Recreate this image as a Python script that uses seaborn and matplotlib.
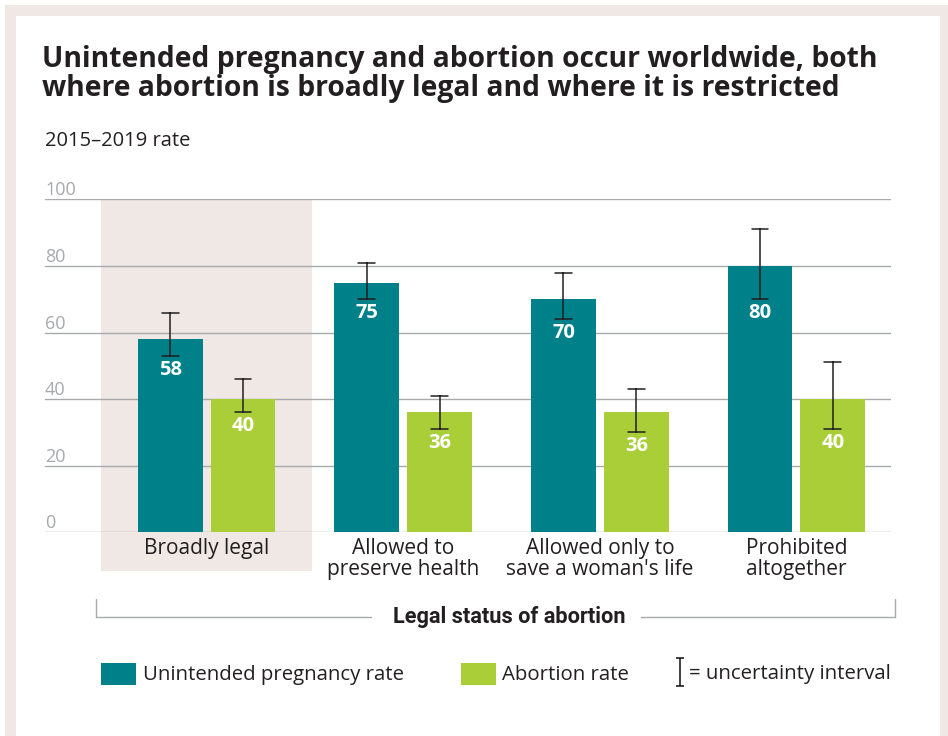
import matplotlib
matplotlib.use("Agg")
import matplotlib.pyplot as plt
from matplotlib.patches import Rectangle, Patch
from matplotlib.lines import Line2D
from matplotlib.path import Path
import numpy as np
import pandas as pd
import seaborn as sns

# data (2015-2019 rates per 1,000 women)
status = ["Broadly legal", "Allowed to\npreserve health",
          "Allowed only to\nsave a woman's life", "Prohibited\naltogether"]
unintended = [58, 75, 70, 80]
unintended_lo = [53, 70, 64, 70]
unintended_hi = [66, 81, 78, 91]
abortion = [40, 36, 36, 40]
abortion_lo = [36, 31, 30, 31]
abortion_hi = [46, 41, 43, 51]
measures = ["Unintended pregnancy rate", "Abortion rate"]
yticks = [0, 20, 40, 60, 80, 100]

TEAL = "#00818a"
GREEN = "#a9ce38"
BEIGE = "#efe8e5"
DARK = "#231f20"
GRAY = "#a7a9ac"

# long table: low / estimate / high per bar, so seaborn draws the interval
rows = []
for s, v, lo, hi in zip(status, unintended, unintended_lo, unintended_hi):
    for r in (lo, v, hi):
        rows.append({"status": s, "measure": measures[0], "rate": r})
for s, v, lo, hi in zip(status, abortion, abortion_lo, abortion_hi):
    for r in (lo, v, hi):
        rows.append({"status": s, "measure": measures[1], "rate": r})
df = pd.DataFrame(rows)

sns.set_style("white")
plt.rcParams["font.family"] = ["Open Sans", "DejaVu Sans"]

W, H = 948, 736
fig = plt.figure(figsize=(W / 100, H / 100), dpi=100)


def fx(px):
    return px / W


def fy(py):
    return 1 - py / H


# beige frame
fig.add_artist(Rectangle((fx(5), -0.1), 1.2, fy(5) + 0.1, transform=fig.transFigure,
                         color=BEIGE, zorder=-3, lw=0))
fig.add_artist(Rectangle((fx(16), -0.1), fx(940) - fx(16), fy(16) + 0.1,
                         transform=fig.transFigure, color="white", zorder=-2, lw=0))

ax = fig.add_axes([fx(45), fy(532.3), fx(891) - fx(45), fy(199.3) - fy(532.3)])
ax.patch.set_alpha(0)

sns.barplot(
    data=df, x="status", y="rate", hue="measure",
    order=status, hue_order=measures,
    palette={measures[0]: TEAL, measures[1]: GREEN},
    estimator="median", errorbar=lambda v: (v.min(), v.max()),
    capsize=0.17, err_kws={"color": DARK, "linewidth": 1.1},
    width=0.74, gap=0.11, saturation=1, legend=False,
    linewidth=0, edgecolor="none", ax=ax,
)

ax.set_ylim(0, 100)
ax.set_xlim(-0.822, 3.481)
ax.axvspan(-0.535, 0.535, ymin=-0.116, ymax=1, color=BEIGE, lw=0,
           zorder=0, clip_on=False)

ax.set_axisbelow(True)
ax.yaxis.grid(True, color=GRAY, linewidth=1)
ax.xaxis.grid(False)
for sp in ax.spines.values():
    sp.set_visible(False)

ax.set_yticks(yticks)
ax.set_yticklabels([str(t) for t in yticks])
ax.tick_params(axis="y", length=0, pad=0, labelsize=13, labelcolor=GRAY)
for lab in ax.get_yticklabels():
    lab.set_horizontalalignment("left")
    lab.set_verticalalignment("bottom")
ax.tick_params(axis="x", length=0, pad=4, labelsize=15, labelcolor=DARK)
for lab in ax.get_xticklabels():
    lab.set_linespacing(1.0)
ax.set_xlabel("")
ax.set_ylabel("")

# value labels just under the lower end of each interval
for cont, lows in zip(ax.containers, [unintended_lo, abortion_lo]):
    for bar, lo in zip(cont, lows):
        ax.annotate(f"{bar.get_height():.0f}", (bar.get_x() + bar.get_width() / 2, lo),
                    xytext=(0, -10), textcoords="offset points",
                    ha="center", va="center", color="white",
                    fontsize=14.5, fontweight="bold")

# titles
fig.text(fx(42), fy(45), "Unintended pregnancy and abortion occur worldwide, both\n"
         "where abortion is broadly legal and where it is restricted",
         ha="left", va="top", fontsize=20.3, fontweight="bold", color=DARK,
         linespacing=1.0)
fig.text(fx(45), fy(146), "2015\u20132019 rate", ha="left", va="baseline",
         fontsize=14.5, color=DARK)

# bracket with axis title
for x0, x1 in [(96, 371), (641, 895)]:
    fig.add_artist(Line2D([fx(x0), fx(x1)], [fy(617), fy(617)],
                          transform=fig.transFigure, color=GRAY, lw=1))
for x0 in (96, 895):
    fig.add_artist(Line2D([fx(x0), fx(x0)], [fy(599), fy(617)],
                          transform=fig.transFigure, color=GRAY, lw=1))
fig.text(fx(509), fy(617), "Legal status of abortion", ha="center", va="center",
         fontsize=15.7, fontweight="bold", color=DARK, family=["Roboto", "DejaVu Sans"])

# legend
handles = [Patch(color=TEAL, lw=0), Patch(color=GREEN, lw=0)]
fig.legend(handles, measures, loc="center left", bbox_to_anchor=(fx(101), fy(674)),
           ncol=2, frameon=False, borderpad=0, borderaxespad=0,
           handlelength=1.7, handleheight=1.3, handletextpad=0.34,
           columnspacing=2.8, prop={"size": 14.7}, labelcolor=DARK)

ibar = Path([(-0.28, -1), (0.28, -1), (0, -1), (0, 1), (-0.28, 1), (0.28, 1)],
            [Path.MOVETO, Path.LINETO, Path.MOVETO, Path.LINETO, Path.MOVETO, Path.LINETO])
eb = Line2D([], [], linestyle="none", marker=ibar, markersize=20,
            markeredgewidth=1.2, color=DARK, markerfacecolor="none")
fig.legend([eb], ["= uncertainty interval"], loc="center left",
           bbox_to_anchor=(fx(672), fy(674)), frameon=False, borderpad=0,
           borderaxespad=0, handlelength=0.8, handletextpad=0.05,
           prop={"size": 14.7}, labelcolor=DARK)

fig.savefig("out.png", dpi=100)
